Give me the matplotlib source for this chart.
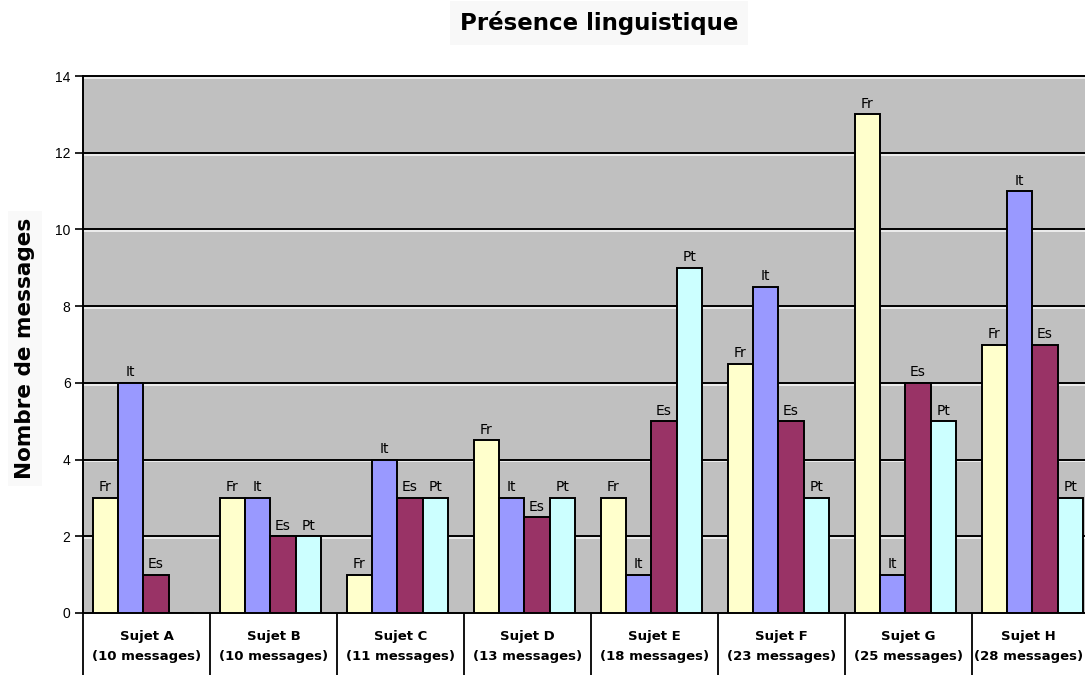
import matplotlib
matplotlib.use("Agg")
import matplotlib.pyplot as plt
import matplotlib.transforms as mtransforms
import numpy as np

categories = ["Sujet A", "Sujet B", "Sujet C", "Sujet D", "Sujet E", "Sujet F", "Sujet G", "Sujet H"]
messages = [10, 10, 11, 13, 18, 23, 25, 28]
series_names = ["Fr", "It", "Es", "Pt"]
fr = [3, 3, 1, 4.5, 3, 6.5, 13, 7]
it = [6, 3, 4, 3, 1, 8.5, 1, 11]
es = [1, 2, 3, 2.5, 5, 5, 6, 7]
pt = [0, 2, 3, 3, 9, 3, 5, 3]
yticks = [0, 2, 4, 6, 8, 10, 12, 14]
colors = ["#FFFFCC", "#9999FF", "#993366", "#CCFFFF"]

fig = plt.figure(figsize=(10.85, 6.75), dpi=100)
fig.patch.set_facecolor("white")
ax = fig.add_axes([83 / 1085, 1 - 613 / 675, 1016 / 1085, 537 / 675])
ax.set_facecolor("#C0C0C0")

n = len(categories)
x = np.arange(n)
w = 0.2
for i, (vals, name, col) in enumerate(zip([fr, it, es, pt], series_names, colors)):
    pos = x + (i - 1.5) * w - 0.025
    ax.bar(pos, vals, width=w, color=col, edgecolor="black", linewidth=1.4, zorder=3)
    for p, v in zip(pos, vals):
        if v > 0:
            ax.annotate(name, (p, v), xytext=(0, 2.5), textcoords="offset points",
                        ha="center", va="bottom", fontsize=10, family="DejaVu Sans", zorder=4)

# gridlines: black with a light highlight just below
blend = mtransforms.blended_transform_factory(ax.transAxes, ax.transData)
shift = mtransforms.offset_copy(blend, fig=fig, x=0, y=-1.8, units="dots")
for yv in yticks[1:]:
    ax.plot([0, 1], [yv, yv], transform=shift, color="#F0F0F0", lw=1.3, zorder=1, clip_on=False)
    ax.plot([0, 1], [yv, yv], transform=blend, color="black", lw=1.4, zorder=2, clip_on=False)

ax.set_xlim(-0.5, n - 0.5)
ax.set_ylim(0, 14)
ax.set_yticks(yticks)
ax.set_yticklabels([str(t) for t in yticks], fontsize=10, family="Liberation Sans")
ax.tick_params(axis="y", direction="out", length=6, width=1.2, pad=3)

ax.set_xticks(x)
ax.set_xticklabels([f"{c}\n({m} messages)" for c, m in zip(categories, messages)],
                   fontsize=9.5, fontweight="bold", family="DejaVu Sans", linespacing=1.75)
ax.tick_params(axis="x", which="major", length=0, pad=12)
ax.set_xticks(np.arange(n + 1) - 0.5, minor=True)
ax.tick_params(axis="x", which="minor", direction="out", length=50, width=1.3, color="black")

# keep the last category label inside the canvas
fig.canvas.draw()
last = ax.get_xticklabels()[-1]
last.set_transform(last.get_transform() + mtransforms.ScaledTranslation(-7 / 100, 0, fig.dpi_scale_trans))

for s in ["top", "right"]:
    ax.spines[s].set_visible(False)
ax.spines["left"].set_linewidth(1.4)
ax.spines["bottom"].set_linewidth(1.4)

ax.set_ylabel("Nombre de messages", fontsize=15.5, fontweight="bold", family="DejaVu Sans",
              bbox=dict(facecolor="#F9F9F9", edgecolor="none", pad=5))
ax.yaxis.set_label_coords(-0.047, 0.493)

fig.text(599 / 1085, 1 - 23 / 675, "Présence linguistique", ha="center", va="center",
         fontsize=16.5, fontweight="bold", family="DejaVu Sans",
         bbox=dict(facecolor="#F8F8F8", edgecolor="none", pad=7))

fig.savefig("out.png", dpi=100)
